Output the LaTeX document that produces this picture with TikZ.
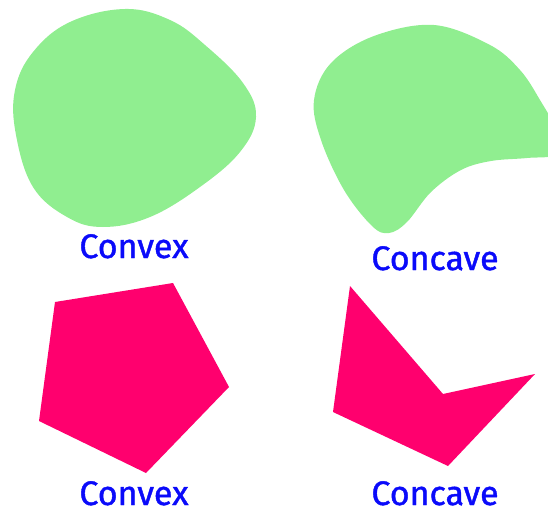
\documentclass[tikz,border=0pt]{standalone}
\usepackage{fontspec}
\setmainfont{Fira Sans}
\newfontfamily\labfont[FakeBold=1.2]{Fira Sans}
\definecolor{blobgreen}{RGB}{144,238,144}
\definecolor{polypink}{RGB}{255,0,110}
\definecolor{labelblue}{RGB}{10,10,250}
\begin{document}
\begin{tikzpicture}[x=1pt,y=-1pt,
  label/.style={text=labelblue,font=\labfont\fontsize{34}{34}\selectfont,inner sep=0pt,anchor=base},
  blob/.style={fill=blobgreen,draw=none},
  poly/.style={fill=polypink,draw=none}]
\useasboundingbox (0,0) rectangle (548,514);
% convex blob
\fill[blob] plot[smooth cycle,tension=0.65] coordinates {
  (125,9) (70,22) (33,52) (15,90) (16,135) (33,187) (67,217) (103,227)
  (150,217) (200,187) (240,152) (256,117) (243,83) (205,45) (170,20)};
% concave blob
\begin{scope}
\clip (0,0) rectangle (548,514);
\fill[blob] plot[smooth cycle,tension=0.6] coordinates {
  (434,25) (490,45) (520,70) (540,100) (556,130) (556,154) (527,158)
  (491,161) (461,170) (431,192) (407,222) (389,233) (372,226) (344,190)
  (321,140) (314,100) (331,63) (374,36)};
\end{scope}
% convex polygon
\fill[poly] (55,302) -- (173,283) -- (229,387) -- (146,473) -- (39,421) -- cycle;
% concave polygon
\fill[poly] (350,286) -- (443,394) -- (535,374) -- (448,466) -- (333,412) -- cycle;
% labels
\node[label] (l1) at (134,258) {Convex};
\node[label] (l2) at (435,270) {Concave};
\node[label] (l3) at (134,505) {Convex};
\node[label] (l4) at (435,505) {Concave};
\end{tikzpicture}
\end{document}
